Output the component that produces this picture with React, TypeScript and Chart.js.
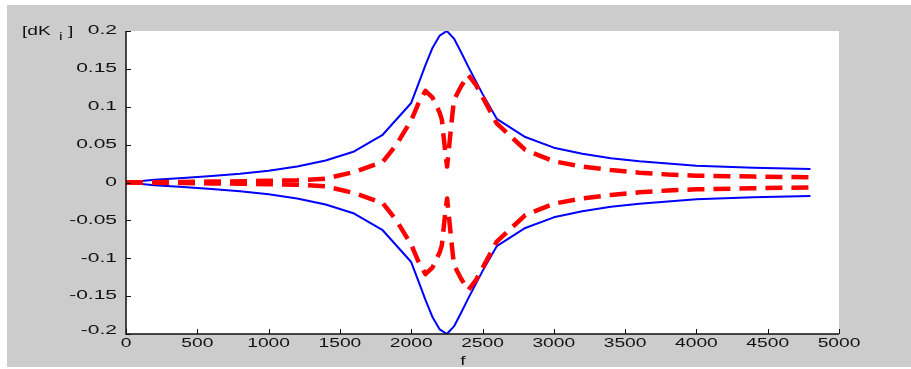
import React, { useEffect, useRef } from "react";
import { Chart, registerables } from "chart.js";

Chart.register(...registerables);

// ---- data ----
const freqBlue = [0, 200, 400, 600, 800, 1000, 1200, 1400, 1600, 1800, 2000, 2050, 2100, 2150, 2200, 2250, 2300, 2350, 2400, 2500, 2600, 2800, 3000, 3200, 3400, 3600, 4000, 4400, 4800];
const blueUpper = [0, 0.0035, 0.006, 0.0085, 0.0115, 0.0155, 0.021, 0.029, 0.041, 0.063, 0.105, 0.13, 0.155, 0.178, 0.194, 0.2, 0.19, 0.172, 0.153, 0.117, 0.084, 0.06, 0.046, 0.038, 0.032, 0.028, 0.022, 0.0195, 0.0178];
const blueLower = [0, -0.0035, -0.006, -0.0085, -0.0115, -0.0155, -0.021, -0.029, -0.041, -0.063, -0.105, -0.13, -0.155, -0.178, -0.194, -0.2, -0.19, -0.172, -0.153, -0.117, -0.084, -0.06, -0.046, -0.038, -0.032, -0.028, -0.022, -0.0195, -0.0178];

const freqRed = [0, 200, 400, 600, 800, 1000, 1200, 1400, 1600, 1800, 1900, 2000, 2050, 2100, 2150, 2200, 2215, 2240, 2252, 2262, 2285, 2300, 2350, 2400, 2450, 2500, 2600, 2800, 3000, 3200, 3400, 3600, 3800, 4000, 4400, 4800];
const redUpper = [0, 0.0004, 0.0008, 0.0012, 0.0016, 0.0022, 0.003, 0.005, 0.014, 0.027, 0.051, 0.082, 0.104, 0.121, 0.112, 0.092, 0.083, 0.038, 0.021, 0.04, 0.083, 0.109, 0.127, 0.142, 0.13, 0.113, 0.078, 0.043, 0.028, 0.021, 0.0165, 0.013, 0.0105, 0.009, 0.0078, 0.0069];
const redLower = [0, -0.0004, -0.0008, -0.0012, -0.0016, -0.0022, -0.003, -0.005, -0.014, -0.027, -0.051, -0.082, -0.104, -0.121, -0.112, -0.092, -0.083, -0.038, -0.021, -0.04, -0.083, -0.109, -0.127, -0.142, -0.13, -0.113, -0.078, -0.043, -0.028, -0.021, -0.0165, -0.013, -0.0105, -0.009, -0.0075, -0.0064];

const xTickValues = [0, 500, 1000, 1500, 2000, 2500, 3000, 3500, 4000, 4500, 5000];
const xTickLabels = ["0", "500", "1000", "1500", "2000", "2500", "3000", "3500", "4000", "4500", "5000"];
const yTickValues = [0.2, 0.15, 0.1, 0.05, 0, -0.05, -0.1, -0.15, -0.2];
const yTickLabels = ["0.2", "0.15", "0.1", "0.05", "0", "-0.05", "-0.1", "-0.15", "-0.2"];

const xLabel = "f";
const yLabelMain = "[dK";
const yLabelSub = "i";
const yLabelEnd = "]";

const toPts = (xs: number[], ys: number[]) => xs.map((x, i) => ({ x, y: ys[i] }));

const FONT = "12px 'Liberation Sans', Arial, sans-serif";
const SX = 1.6;

function stretchedText(ctx: CanvasRenderingContext2D, text: string, x: number, y: number, align: CanvasTextAlign, font = FONT, sx = SX) {
  ctx.save();
  ctx.font = font;
  ctx.textAlign = align;
  ctx.textBaseline = "middle";
  ctx.fillStyle = "#111";
  ctx.translate(x, y);
  ctx.scale(sx, 1);
  ctx.fillText(text, 0, 0);
  ctx.restore();
}

const matlabPlugin = {
  id: "matlabLook",
  beforeDraw(chart: any) {
    const { ctx, chartArea, width, height } = chart;
    ctx.save();
    ctx.fillStyle = "#ffffff";
    ctx.fillRect(0, 0, width, height);
    ctx.fillStyle = "#cccccc";
    ctx.fillRect(7, 5, width - 7, height - 7);
    ctx.fillStyle = "#ffffff";
    ctx.fillRect(chartArea.left, chartArea.top, chartArea.right - chartArea.left, chartArea.bottom - chartArea.top);
    ctx.restore();
  },
  afterDraw(chart: any) {
    const { ctx, chartArea } = chart;
    const xs = chart.scales.x;
    const ys = chart.scales.y;
    const { left, right, top, bottom } = chartArea;
    ctx.save();
    ctx.strokeStyle = "#111";
    ctx.lineWidth = 1.5;
    ctx.beginPath();
    ctx.moveTo(left, top);
    ctx.lineTo(left, bottom);
    ctx.lineTo(right, bottom);
    ctx.stroke();
    ctx.lineWidth = 1;
    ctx.beginPath();
    xTickValues.forEach((v) => {
      const px = Math.round(xs.getPixelForValue(v)) + 0.5;
      ctx.moveTo(px, bottom);
      ctx.lineTo(px, bottom - 5);
    });
    yTickValues.forEach((v) => {
      const py = Math.round(ys.getPixelForValue(v)) + 0.5;
      ctx.moveTo(left, py);
      ctx.lineTo(left + 5, py);
    });
    ctx.stroke();
    ctx.restore();

    xTickValues.forEach((v, i) => {
      stretchedText(ctx, xTickLabels[i], xs.getPixelForValue(v), bottom + 10, "center");
    });
    yTickValues.forEach((v, i) => {
      let py = ys.getPixelForValue(v);
      if (i === yTickValues.length - 1) py -= 3;
      stretchedText(ctx, yTickLabels[i], left - 9, py, "right", FONT, 1.75);
    });
    stretchedText(ctx, xLabel, 463, 362, "center");
    stretchedText(ctx, yLabelMain, 22, 32, "left");
    stretchedText(ctx, yLabelSub, 59, 37, "left", "10px 'Liberation Sans', Arial, sans-serif");
    stretchedText(ctx, yLabelEnd, 68, 32, "left");
  },
};

const redStyle = {
  borderColor: "#ff0000",
  borderWidth: 4.5,
  borderDash: [17, 9],
  borderJoinStyle: "round" as const,
  pointRadius: 0,
  tension: 0,
  fill: false,
};
const blueStyle = {
  borderColor: "#0000ff",
  borderWidth: 2,
  borderJoinStyle: "round" as const,
  pointRadius: 0,
  tension: 0,
  fill: false,
};

export default function App() {
  const canvasRef = useRef<HTMLCanvasElement | null>(null);

  useEffect(() => {
    document.body.style.margin = "0";
    const canvas = canvasRef.current;
    if (!canvas) return;
    const chart = new Chart(canvas, {
      type: "line",
      data: {
        datasets: [
          { data: toPts(freqRed, redUpper), ...redStyle },
          { data: toPts(freqRed, redLower), ...redStyle },
          { data: toPts(freqBlue, blueUpper), ...blueStyle },
          { data: toPts(freqBlue, blueLower), ...blueStyle },
        ],
      },
      options: {
        animation: false,
        responsive: true,
        maintainAspectRatio: false,
        layout: { padding: { top: 31, right: 72, left: 0, bottom: 0 } },
        plugins: { legend: { display: false }, tooltip: { enabled: false } },
        scales: {
          x: {
            type: "linear",
            min: 0,
            max: 5000,
            grid: { display: false },
            border: { display: false },
            ticks: { display: false, stepSize: 500 },
            afterFit: (s: any) => {
              s.height = 35;
            },
          },
          y: {
            type: "linear",
            min: -0.2,
            max: 0.2,
            grid: { display: false },
            border: { display: false },
            ticks: { display: false, stepSize: 0.05 },
            afterFit: (s: any) => {
              s.width = 126;
            },
          },
        },
      },
      plugins: [matlabPlugin],
    });
    return () => chart.destroy();
  }, []);

  return (
    <div style={{ position: "relative", width: 911, height: 369 }}>
      <canvas ref={canvasRef} />
    </div>
  );
}
